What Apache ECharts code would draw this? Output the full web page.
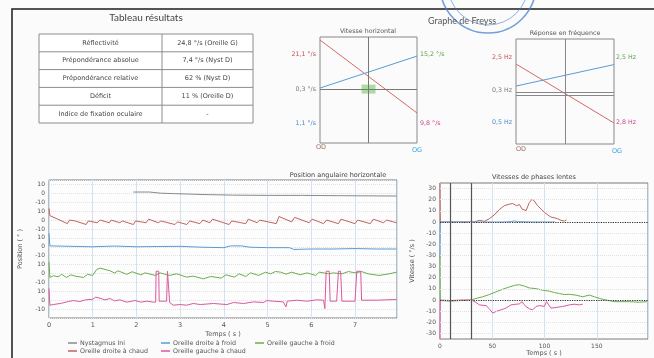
<!DOCTYPE html>
<html><head><meta charset="utf-8">
<script src="https://cdn.jsdelivr.net/npm/echarts@6/dist/echarts.min.js"></script>
<style>html,body{margin:0;padding:0;background:#fbfbfb}#c{width:654px;height:358px}</style>
</head><body><div id="c"></div>
<script>
// ---------- Results table ----------
const tableTitle = 'Tableau résultats';
const tableLabels = ['Réflectivité', 'Prépondérance absolue', 'Prépondérance relative', 'Déficit', 'Indice de fixation oculaire'];
const tableValues = ['24,8 °/s (Oreille G)', '7,4 °/s (Nyst D)', '62 % (Nyst D)', '11 % (Oreille D)', '-'];

// ---------- Freyss graphs ----------
const freyssTitle = 'Graphe de Freyss';
const freyssX = [0, 1]; // OD -> OG
const vhTitle = 'Vitesse horizontal';
const vhRed = [28.3, -13];
const vhBlue = [1.1, 19.2];
const vhCenter = [[0.5, 0.5]];
const vhLeftLabels = ['21,1 °/s', '0,3 °/s', '1,1 °/s'];
const vhRightLabels = ['15,2 °/s', '9,8 °/s'];
const frTitle = 'Réponse en fréquence';
const frRed = [15.7, -18];
const frBlue = [3.1, 15.4];
const frLeftLabels = ['2,5 Hz', '0,3 Hz', '0,5 Hz'];
const frRightLabels = ['2,5 Hz', '2,8 Hz'];
const earLabels = ['OD', 'OG'];

// ---------- Position angulaire horizontale ----------
const posTitle = 'Position angulaire horizontale';
const seriesNames = ['Nystagmus Ini', 'Oreille droite à chaud', 'Oreille droite à froid', 'Oreille gauche à froid', 'Oreille gauche à chaud'];
const posNysT = [1.93, 2.3, 2.55, 2.85, 3.2, 3.5, 4.2, 5.0, 5.8, 6.6, 7.3, 7.95];
const posNysV = [1.5, 1.5, 0.2, -0.3, -0.8, -1.3, -2.0, -2.3, -2.3, -2.6, -2.8, -3.0];
const posRedT = [0, 0.02, 0.2, 0.42, 0.47, 0.6, 0.85, 0.9, 1.1, 1.17, 1.38, 1.42, 1.62, 1.68, 1.93, 1.98, 2.22, 2.28, 2.5, 2.56, 2.88, 2.94, 3.15, 3.22, 3.45, 3.52, 3.68, 3.74, 4.12, 4.18, 4.5, 4.56, 4.76, 4.82, 5.2, 5.26, 5.55, 5.62, 5.95, 6.02, 6.28, 6.35, 6.62, 6.68, 7.0, 7.06, 7.35, 7.42, 7.65, 7.72, 7.95];
const posRedV = [13, 5, 1, -4, 0, -1, -5, -1, -3, 0, -3, 0, -3, -1, -5, -1, -3, 1, -3, -1, -5, -2, -5, -1, -4, 0, -3, 1, -5, -1, -4, 1, -3, 0, -4, 4, -2, 3, -3, 1, -4, 0, -4, 1, -4, 0, -4, 1, -3, 0, -3];
const posBlueT = [0, 0.02, 0.5, 1.0, 1.5, 2.0, 2.5, 3.0, 3.5, 4.0, 4.15, 4.4, 4.6, 5.0, 5.5, 5.6, 6.0, 6.5, 7.0, 7.5, 7.95];
const posBlueV = [15, 1, 0.5, 0, 0.8, 0, 0.3, 0.5, -0.5, -1, 1, 1, -0.5, -1, -1, -3, -2.5, -2.5, -2, -2.5, -2.5];
const posGreenT = [0, 0.02, 0.1, 0.21, 0.29, 0.4, 0.5, 0.6, 0.79, 0.88, 1.0, 1.09, 1.17, 1.4, 1.5, 1.58, 1.78, 1.9, 2.1, 2.2, 2.43, 2.54, 2.75, 2.92, 3.15, 3.3, 3.53, 3.7, 3.94, 4.05, 4.24, 4.35, 4.5, 4.61, 4.8, 4.95, 5.07, 5.18, 5.3, 5.42, 5.55, 5.75, 5.9, 6.1, 6.18, 6.4, 6.5, 6.7, 6.85, 7.0, 7.15, 7.3, 7.55, 7.78, 7.95];
const posGreenV = [13, -4.5, -2.5, -3.7, -1, -4.5, -1.5, -3, -4.5, -1, -2.2, 4.5, 6, 3, 0.5, 3, -1, 2, -1.5, 0.7, -2.2, 0.7, -2.2, -0.4, -4.1, -3, -6, -3.4, -5.2, -1.5, -4.1, -0.4, -3.4, 0.7, -2.2, 1.5, -0.4, 2.2, 1.5, -0.8, 1.5, -1.5, 0.7, -2.2, 1.5, -0.4, 0.7, -0.4, 2.2, 0.7, 2.2, -0.4, -2.2, -0.4, 1.5];
const posPinkT = [0, 0.02, 0.1, 0.29, 0.44, 0.56, 0.7, 0.84, 1.0, 1.07, 1.17, 1.28, 1.4, 1.5, 1.62, 1.78, 1.97, 2.1, 2.24, 2.39, 2.44, 2.45, 2.51, 2.52, 2.69, 2.71, 2.75, 2.76, 2.84, 3.0, 3.15, 3.3, 3.46, 3.76, 4.07, 4.22, 4.45, 4.68, 4.91, 4.98, 5.13, 5.36, 5.42, 5.45, 5.67, 5.9, 6.12, 6.28, 6.31, 6.34, 6.41, 6.43, 6.58, 6.62, 6.67, 6.70, 7.0, 7.04, 7.13, 7.15, 7.5, 7.95];
const posPinkV = [13, -5.6, -4.9, -3.4, -1.5, -0.4, -1.5, 0.4, 1.1, 3.4, 2.2, 0.4, 1.9, -0.8, 0.4, -2.2, -0.4, -2.2, -1.1, -2.2, -2.2, 32.5, 32.5, -1.1, -1.1, 32.5, 32.5, -2.6, -5.6, -4.9, -5.6, -3.7, -4.9, -3.7, -4.9, -2.6, -3.7, -1.9, -2.6, -0.4, -1.1, -1.9, -7.5, -1.1, 0, -1.1, 0.4, 0, -9.4, 32.5, 32.5, -1.1, -1.1, 32.5, 32.5, -1.1, -1.1, 32.5, 32.5, 0, 0, 0.8];

// ---------- Vitesses de phases lentes ----------
const velTitle = 'Vitesses de phases lentes';
const velRedT = [0, 0.3, 10, 20, 30, 32.8, 37.6, 42.4, 47.2, 52, 56.7, 61.5, 66.3, 69.5, 71.1, 73.3, 75.9, 78.5, 82.3, 85.5, 88, 90.2, 93.4, 96.6, 99.8, 103, 106.2, 109.4, 112.6, 115.8, 118.9, 121.1];
const velRedV = [35, 0, 0, 0, 0, 0, 1.5, 0.6, 2.9, 6.4, 11.1, 14.6, 16, 16.6, 15.4, 14.6, 15.7, 11.7, 10.2, 17.5, 20.4, 19, 14.6, 11.7, 8.8, 6.4, 4.4, 3.8, 2.9, 1.5, 0.9, 1.8];
const velBlueT = [0, 0.3, 30, 60, 68, 71, 74, 90, 110];
const velBlueV = [-32, 0, 0, 0, 0.3, 1, 0.3, 0, 0];
const velGreenT = [0, 0.3, 10, 20, 30, 34.4, 40.8, 47.2, 53.6, 59.9, 66.3, 71.1, 75.9, 77.5, 80.7, 85.5, 91.9, 98.2, 104.6, 109.4, 114.2, 118.9, 123.7, 130.1, 136.5, 142.9, 147.7, 152.4, 158.8, 163.6, 168.4, 181.1, 190.7, 198];
const velGreenV = [40, -0.5, -1, -0.5, 0, 1.4, 2.9, 4.9, 7.3, 9.6, 11.7, 13.1, 13.7, 14.6, 12.5, 10.8, 10.2, 8.8, 7.9, 6.7, 5.8, 4.9, 5.1, 4.4, 2.9, 4.4, 2.9, 1.4, 0, -0.9, -1.5, -1.5, -2, -1.5];
const velPinkT = [0, 0.3, 10, 20, 30, 34.4, 37.6, 44, 47.2, 50.4, 53.6, 58.4, 63.1, 67.9, 72.7, 75.9, 78.5, 80.1, 82.3, 85.5, 88.7, 91.9, 95, 99.8, 102, 104, 106.2, 111, 117.4, 123.7, 128.5, 133.3, 136.5];
const velPinkV = [-40, 0, -0.5, 0, 0, -2.1, -4.4, -5, -7.9, -11.7, -10.3, -8.8, -7.3, -4.4, -3.8, -3.5, -1.5, -3.8, -5.8, -7.9, -8.8, -5.8, -5, -5.8, -1.5, -4.4, -7.3, -6.7, -5.8, -4.4, -3.8, -4.4, -3.8];
const velMarkTimes = [10, 30];

// ---------- styles & layout ----------
const C = { nys: '#8a8a8a', red: '#c2625c', blue: '#5b9bd5', green: '#6cae4e', pink: '#d9599f', txt: '#555', frame: '#7a7a7a' };
const FF = 'DejaVu Sans';
const POS_OFF = { nys: 140, red: 110, blue: 80, green: 50, pink: 20 }; // track baselines (axis units)
const VEL_OFF = { up: 105, low: 35 };

const zip = (t, v, off) => t.map((x, i) => [x, v[i] + off]);

function posLabel(u) {
  if (u < 5 || u > 151) return '';
  const r = (((u - 20) % 30) + 30) % 30;
  if (Math.abs(r) < 1e-6) return '0';
  if (Math.abs(r - 10) < 1e-6) return '10';
  if (Math.abs(r - 20) < 1e-6) return '-10';
  return '';
}
function velLabel(u) {
  const k = Math.round(u);
  if (Math.abs(u - k) > 1e-6 || k % 10 !== 5) return '';
  return String(k < 70 ? k - VEL_OFF.low : k - VEL_OFF.up);
}

const chart = echarts.init(document.getElementById('c'), null, { renderer: 'canvas' });

// graphic elements
const G = [];
const txt = (text, x, y, size, fill, align, family, weight) => G.push({
  type: 'text', x, y, silent: true,
  style: { text, fill, font: (weight || 'normal') + ' ' + size + 'px "' + (family || FF) + '"', align: align || 'center', textAlign: align || 'center', verticalAlign: 'middle', textVerticalAlign: 'middle' }
});
const line = (x1, y1, x2, y2, stroke, w) => G.push({ type: 'line', silent: true, shape: { x1, y1, x2, y2 }, style: { stroke, lineWidth: w || 1 } });

// page frame
G.push({ type: 'rect', silent: true, shape: { x: 12, y: 9, width: 700, height: 400 }, style: { fill: 'none', stroke: '#1c1c1c', lineWidth: 1.5 } });
// stamp
G.push({ type: 'circle', silent: true, shape: { cx: 488, cy: -15, r: 48 }, style: { fill: 'none', stroke: 'rgba(70,130,205,0.75)', lineWidth: 1.6 } });
G.push({ type: 'circle', silent: true, shape: { cx: 488, cy: -15, r: 40 }, style: { fill: 'none', stroke: 'rgba(70,130,205,0.6)', lineWidth: 1 } });

// table
txt(tableTitle, 146, 18, 10, '#444', 'center', 'Lato');
const tX0 = 39, tX1 = 162, tX2 = 253, tY0 = 34, rowH = 17.8;
G.push({ type: 'rect', silent: true, shape: { x: tX0, y: tY0, width: tX2 - tX0, height: rowH * tableLabels.length }, style: { fill: '#fff', stroke: '#8c8c8c', lineWidth: 1 } });
line(tX1, tY0, tX1, tY0 + rowH * tableLabels.length, '#8c8c8c');
tableLabels.forEach((lab, i) => {
  if (i > 0) line(tX0, tY0 + rowH * i, tX2, tY0 + rowH * i, '#8c8c8c');
  txt(lab, (tX0 + tX1) / 2, tY0 + rowH * (i + 0.5), 6.5, '#444');
  txt(tableValues[i], (tX1 + tX2) / 2, tY0 + rowH * (i + 0.5), 6.5, '#444');
});

// Freyss texts
txt(freyssTitle, 428, 21, 9, '#555', 'left', 'Lato');
txt(vhTitle, 368, 31, 6.3, '#555');
txt(vhLeftLabels[0], 316, 54, 6.3, '#c0504d', 'right');
txt(vhLeftLabels[1], 316, 89, 6.3, '#777', 'right');
txt(vhLeftLabels[2], 316, 123, 6.3, '#4a86c8', 'right');
txt(vhRightLabels[0], 420, 54, 6.3, '#5aa04a', 'left');
txt(vhRightLabels[1], 420, 123, 6.3, '#c83f8a', 'left');
txt(earLabels[0], 321, 147, 6.5, '#a07060');
txt(earLabels[1], 417, 150, 6.5, '#3aa6e0');
txt(frTitle, 565, 33, 6.3, '#555');
txt(frLeftLabels[0], 512, 57, 6.3, '#c0504d', 'right');
txt(frLeftLabels[1], 512, 90, 6.3, '#777', 'right');
txt(frLeftLabels[2], 512, 122, 6.3, '#4a86c8', 'right');
txt(frRightLabels[0], 616, 57, 6.3, '#5aa04a', 'left');
txt(frRightLabels[1], 616, 122, 6.3, '#c83f8a', 'left');
txt(earLabels[0], 521, 149, 6.5, '#a07060');
txt(earLabels[1], 617, 151, 6.5, '#3aa6e0');

// chart titles
txt(posTitle, 338, 175, 6.5, '#444');
txt(velTitle, 534, 177, 6.5, '#444');

const lbl = { fontSize: 6, color: C.txt, fontFamily: FF };
const nameTS = { fontSize: 6.5, color: C.txt, fontFamily: FF };
const hidden = { show: false };

const velGridLines = [];
for (let u = 5; u <= 135; u += 10) velGridLines.push({ yAxis: u });

const base = { type: 'line', showSymbol: false, symbol: 'none', animation: false, lineStyle: { width: 1 } };

const legendDefs = [
  { name: seriesNames[0], left: 68, top: 340 },
  { name: seriesNames[2], left: 161, top: 340 },
  { name: seriesNames[3], left: 255, top: 340 },
  { name: seriesNames[1], left: 68, top: 348 },
  { name: seriesNames[4], left: 161, top: 348 }
];

const option = {
  backgroundColor: '#fbfbfb',
  animation: false,
  textStyle: { fontFamily: FF },
  graphic: { elements: G },
  legend: legendDefs.map(d => ({
    data: [d.name], left: d.left, top: d.top, padding: 0, itemGap: 0,
    icon: 'rect', itemWidth: 9, itemHeight: 1.5, selectedMode: false,
    textStyle: { fontSize: 6.3, color: '#555', fontFamily: FF, padding: [0, 0, 0, -2] }
  })),
  grid: [
    { left: 49, top: 180, width: 348, height: 138, show: true, borderColor: C.frame, borderWidth: 1, backgroundColor: '#fdfdfd' },
    { left: 440, top: 183, width: 208, height: 161, show: true, borderColor: C.frame, borderWidth: 1, backgroundColor: '#fdfdfd' },
    { left: 320, top: 37, width: 97, height: 106, show: true, borderColor: '#888', borderWidth: 1 },
    { left: 516, top: 39, width: 98, height: 105, show: true, borderColor: '#888', borderWidth: 1 }
  ],
  xAxis: [
    { type: 'value', gridIndex: 0, min: 0, max: 7.96, interval: 1,
      axisLine: hidden, axisTick: hidden,
      axisLabel: { ...lbl, fontSize: 6.5, margin: 4, formatter: v => Math.abs(v - Math.round(v)) < 1e-6 ? String(Math.round(v)) : '' },
      splitLine: { show: true, lineStyle: { color: '#d2e2f2', width: 1 } },
      name: 'Temps ( s )', nameLocation: 'middle', nameGap: 13, nameTextStyle: nameTS },
    { type: 'value', gridIndex: 1, min: 0, max: 199, interval: 50,
      axisLine: hidden, axisTick: hidden,
      axisLabel: { ...lbl, margin: 4, formatter: v => v % 50 === 0 ? String(v) : '' },
      splitLine: { show: true, lineStyle: { color: '#d2e2f2', width: 1 } },
      name: 'Temps ( s )', nameLocation: 'middle', nameGap: 11, nameTextStyle: nameTS },
    { type: 'value', gridIndex: 2, min: 0, max: 1, show: false },
    { type: 'value', gridIndex: 3, min: 0, max: 1, show: false }
  ],
  yAxis: [
    { type: 'value', gridIndex: 0, min: 0, max: 155, interval: 10,
      axisLine: hidden, axisTick: hidden,
      axisLabel: { ...lbl, margin: 4, formatter: posLabel },
      splitLine: { show: true, lineStyle: { color: '#e2e2e2', type: 'dotted', width: 1 } },
      name: 'Position ( ° )', nameLocation: 'middle', nameRotate: 90, nameGap: 22, nameTextStyle: nameTS },
    { type: 'value', gridIndex: 1, min: 0, max: 140, interval: 5,
      axisLine: hidden, axisTick: hidden,
      axisLabel: { ...lbl, margin: 4, formatter: velLabel },
      splitLine: hidden,
      name: 'Vitesse ( °/s )', nameLocation: 'middle', nameRotate: 90, nameGap: 24, nameTextStyle: nameTS },
    { type: 'value', gridIndex: 2, min: -30, max: 30, show: false },
    { type: 'value', gridIndex: 3, min: -30, max: 30, show: false }
  ],
  series: [
    // position chart
    { ...base, name: seriesNames[0], xAxisIndex: 0, yAxisIndex: 0, color: C.nys, data: zip(posNysT, posNysV, POS_OFF.nys) },
    { ...base, name: seriesNames[1], xAxisIndex: 0, yAxisIndex: 0, color: C.red, data: zip(posRedT, posRedV, POS_OFF.red) },
    { ...base, name: seriesNames[2], xAxisIndex: 0, yAxisIndex: 0, color: C.blue, data: zip(posBlueT, posBlueV, POS_OFF.blue) },
    { ...base, name: seriesNames[3], xAxisIndex: 0, yAxisIndex: 0, color: C.green, data: zip(posGreenT, posGreenV, POS_OFF.green) },
    { ...base, name: seriesNames[4], xAxisIndex: 0, yAxisIndex: 0, color: C.pink, data: zip(posPinkT, posPinkV, POS_OFF.pink) },
    // velocity chart grid/reference lines
    { type: 'line', name: 'ref', xAxisIndex: 1, yAxisIndex: 1, data: [], z: 1,
      markLine: { silent: true, symbol: 'none', animation: false, label: hidden,
        lineStyle: { color: '#e0e0e0', type: 'dotted', width: 1 }, data: velGridLines } },
    { type: 'line', name: 'ref2', xAxisIndex: 1, yAxisIndex: 1, data: [], z: 3,
      markLine: { silent: true, symbol: 'none', animation: false, label: hidden,
        data: [
          { yAxis: VEL_OFF.up, lineStyle: { color: '#333', type: 'dotted', width: 1.2 } },
          { yAxis: VEL_OFF.low, lineStyle: { color: '#333', type: 'dotted', width: 1.2 } },
          ...velMarkTimes.map(t => ({ xAxis: t, lineStyle: { color: '#555', type: 'solid', width: 1.2 } }))
        ] } },
    { ...base, name: seriesNames[1], xAxisIndex: 1, yAxisIndex: 1, color: C.red, z: 4, data: zip(velRedT, velRedV, VEL_OFF.up) },
    { ...base, name: seriesNames[2], xAxisIndex: 1, yAxisIndex: 1, color: C.blue, z: 4, data: zip(velBlueT, velBlueV, VEL_OFF.up) },
    { ...base, name: seriesNames[3], xAxisIndex: 1, yAxisIndex: 1, color: C.green, z: 4, data: zip(velGreenT, velGreenV, VEL_OFF.low) },
    { ...base, name: seriesNames[4], xAxisIndex: 1, yAxisIndex: 1, color: C.pink, z: 4, data: zip(velPinkT, velPinkV, VEL_OFF.low) },
    // Freyss: vitesse horizontale
    { type: 'line', name: 'vhref', xAxisIndex: 2, yAxisIndex: 2, data: [],
      markLine: { silent: true, symbol: 'none', animation: false, label: hidden, lineStyle: { color: '#777', type: 'solid', width: 1 },
        data: [{ xAxis: 0.5 }, { yAxis: 0.5 }] } },
    { type: 'scatter', name: 'vhc', xAxisIndex: 2, yAxisIndex: 2, symbol: 'rect', symbolSize: [14, 9], itemStyle: { color: '#98d48a' }, data: vhCenter, z: 3 },
    { ...base, name: 'vhRed', xAxisIndex: 2, yAxisIndex: 2, color: '#d46a66', z: 4, data: freyssX.map((x, i) => [x, vhRed[i]]) },
    { ...base, name: 'vhBlue', xAxisIndex: 2, yAxisIndex: 2, color: '#5b9bd5', z: 4, data: freyssX.map((x, i) => [x, vhBlue[i]]) },
    // Freyss: frequency
    { type: 'line', name: 'frref', xAxisIndex: 3, yAxisIndex: 3, data: [],
      markLine: { silent: true, symbol: 'none', animation: false, label: hidden, lineStyle: { color: '#888', type: 'solid', width: 1 },
        data: [{ xAxis: 0.5 }, { yAxis: -0.3 }, { yAxis: -2 }] } },
    { ...base, name: 'frRed', xAxisIndex: 3, yAxisIndex: 3, color: '#d46a66', z: 4, data: freyssX.map((x, i) => [x, frRed[i]]) },
    { ...base, name: 'frBlue', xAxisIndex: 3, yAxisIndex: 3, color: '#5b9bd5', z: 4, data: freyssX.map((x, i) => [x, frBlue[i]]) }
  ]
};
chart.setOption(option);
</script></body></html>
